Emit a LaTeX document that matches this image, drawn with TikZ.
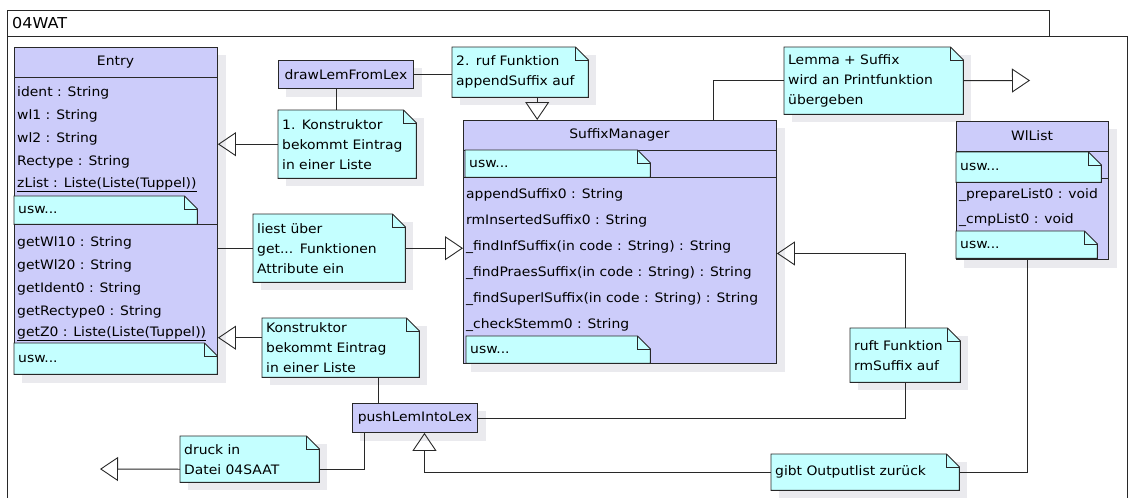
\documentclass[tikz,border=0pt]{standalone}
\usepackage{fontspec}
\setmainfont[FakeStretch=1.07]{DejaVu Sans}
\usetikzlibrary{arrows.meta}
\definecolor{classc}{RGB}{204,204,250}
\definecolor{notec}{RGB}{196,255,255}
\definecolor{shadc}{RGB}{234,234,238}
\definecolor{linec}{RGB}{40,40,40}
\pgfdeclarelayer{shadowlayer}
\pgfdeclarelayer{boxlayer}
\pgfsetlayers{shadowlayer,boxlayer,main}
\tikzset{
 txt/.style={font=\fontsize{13}{20}\selectfont, inner sep=0pt},
 notebox/.style={txt, anchor=north west, align=left, inner xsep=4pt, inner ysep=0pt},
 attr/.style={txt, anchor=west},
 classbox/.style={draw=linec, fill=classc, line width=0.9pt, anchor=north west, inner sep=0pt},
 procbox/.style={txt, draw=linec, fill=classc, line width=0.9pt, anchor=north west},
 conn/.style={draw=linec, line width=0.9pt},
 inh/.style={conn, -{Triangle[open, length=18pt, width=24pt, line width=0.9pt]}},
}
\newcommand\noteshape[1]{%
 \begin{pgfonlayer}{boxlayer}
 \filldraw[fill=notec, draw=linec, line width=0.9pt] (#1.south west) -- (#1.north west) -- ([xshift=-13pt]#1.north east) -- ([yshift=-13pt]#1.north east) -- (#1.south east) -- cycle;
 \draw[linec, line width=0.9pt] ([xshift=-13pt]#1.north east) |- ([yshift=-13pt]#1.north east);
 \end{pgfonlayer}}
\newcommand\boxshadow[1]{%
 \begin{pgfonlayer}{shadowlayer}
 \fill[shadc] ([shift={(8pt,-8pt)}]#1.south west) rectangle ([shift={(8pt,-8pt)}]#1.north east);
 \end{pgfonlayer}}
\begin{document}
\begin{tikzpicture}[x=1pt,y=-1pt]
\useasboundingbox (0,0) rectangle (1128,498);
% frame
\draw[conn] (7,36) -- (7,10) -- (1049,10) -- (1049,36);
\draw[conn] (7,498) -- (7,36) -- (1127,36) -- (1127,498);
\node[txt, anchor=west, font=\fontsize{15}{18}\selectfont] (title) at (12,23) {04WAT};

% ---------- Entry ----------
\begin{pgfonlayer}{boxlayer}
\node[classbox, minimum width=203pt, minimum height=327pt] (entry) at (14,47) {};
\draw[conn] (entry.west |- 0,77) -- (entry.east |- 0,77);
\draw[conn] (entry.west |- 0,224) -- (entry.east |- 0,224);
\end{pgfonlayer}
\boxshadow{entry}
\node[txt] (entryT) at (115.5,62) {Entry};
\node[attr] (ea1) at (17,93) {ident : String};
\node[attr] (ea2) at (17,116) {wl1 : String};
\node[attr] (ea3) at (17,139) {wl2 : String};
\node[attr] (ea4) at (17,162) {Rectype : String};
\node[attr] (ea5) at (17,185) {\underline{zList : Liste(Liste(Tuppel))}};
\node[notebox, text width=175pt, minimum height=28pt] (eu1) at (14,196) {usw...};
\noteshape{eu1}
\node[attr] (em1) at (17,243) {getWl10 : String};
\node[attr] (em2) at (17,266) {getWl20 : String};
\node[attr] (em3) at (17,289) {getIdent0 : String};
\node[attr] (em4) at (17,312) {getRectype0 : String};
\node[attr] (em5) at (17,334) {\underline{getZ0 : Liste(Liste(Tuppel))}};
\node[notebox, text width=195pt, minimum height=31pt] (eu2) at (14,343) {usw...};
\noteshape{eu2}

% ---------- SuffixManager ----------
\begin{pgfonlayer}{boxlayer}
\node[classbox, minimum width=313pt, minimum height=243pt] (sm) at (463,120) {};
\draw[conn] (sm.west |- 0,150) -- (sm.east |- 0,150);
\draw[conn] (sm.west |- 0,177) -- (sm.east |- 0,177);
\end{pgfonlayer}
\boxshadow{sm}
\node[txt] (smT) at (619.5,135) {SuffixManager};
\node[notebox, text width=177pt, minimum height=27pt] (su1) at (465,150) {usw...};
\noteshape{su1}
\node[attr] (sm1) at (466,195) {appendSuffix0 : String};
\node[attr] (sm2) at (466,221) {rmInsertedSuffix0 : String};
\node[attr] (sm3) at (466,247) {\_findInfSuffix(in code : String) : String};
\node[attr] (sm4) at (466,273) {\_findPraesSuffix(in code : String) : String};
\node[attr] (sm5) at (466,299) {\_findSuperlSuffix(in code : String) : String};
\node[attr] (sm6) at (466,325) {\_checkStemm0 : String};
\node[notebox, text width=176pt, minimum height=27pt] (su2) at (466,336) {usw...};
\noteshape{su2}

% ---------- WlList ----------
\begin{pgfonlayer}{boxlayer}
\node[classbox, minimum width=152pt, minimum height=138pt] (wl) at (956,121) {};
\draw[conn] (wl.west |- 0,151) -- (wl.east |- 0,151);
\draw[conn] (wl.west |- 0,178) -- (wl.east |- 0,178);
\end{pgfonlayer}
\boxshadow{wl}
\node[txt] (wlT) at (1032,136) {WlList};
\node[notebox, text width=137pt, minimum height=30pt] (wu1) at (956,152) {usw...};
\noteshape{wu1}
\node[attr] (wm1) at (959,195) {\_prepareList0 : void};
\node[attr] (wm2) at (959,220) {\_cmpList0 : void};
\node[notebox, text width=133pt, minimum height=27pt] (wu2) at (956,231) {usw...};
\noteshape{wu2}

% ---------- operation boxes ----------
\node[procbox, minimum width=135pt, minimum height=28pt] (drawlem) at (278,60) {drawLemFromLex};
\boxshadow{drawlem}
\node[procbox, minimum width=125pt, minimum height=29pt] (pushlem) at (352,403) {pushLemIntoLex};
\boxshadow{pushlem}

% ---------- notes ----------
\node[notebox, text width=128pt, minimum height=50pt] (note2) at (452,47) {2. ruf Funktion\\appendSuffix auf};
\noteshape{note2}\boxshadow{note2}
\node[notebox, text width=130pt, minimum height=68pt] (note1) at (278,110) {1. Konstruktor\\bekommt Eintrag\\in einer Liste};
\noteshape{note1}\boxshadow{note1}
\node[notebox, text width=171pt, minimum height=67pt] (lemma) at (784,47) {Lemma + Suffix\\wird an Printfunktion\\übergeben};
\noteshape{lemma}\boxshadow{lemma}
\node[notebox, text width=144pt, minimum height=68pt] (liest) at (253,214) {liest über\\get... Funktionen\\Attribute ein};
\noteshape{liest}\boxshadow{liest}
\node[notebox, text width=149pt, minimum height=59pt] (konstr) at (262,318) {Konstruktor\\bekommt Eintrag\\in einer Liste};
\noteshape{konstr}\boxshadow{konstr}
\node[notebox, text width=102pt, minimum height=54pt] (ruft) at (850,328) {ruft Funktion\\rmSuffix auf};
\noteshape{ruft}\boxshadow{ruft}
\node[notebox, text width=131pt, minimum height=46pt] (druck) at (180,436) {druck in\\Datei 04SAAT};
\noteshape{druck}\boxshadow{druck}
\node[notebox, text width=180pt, minimum height=36pt] (gibt) at (771,454) {gibt Outputlist zurück};
\noteshape{gibt}\boxshadow{gibt}

\coordinate (lemEnd) at (1030,80.5);
\coordinate (drEnd) at (100,469);

% ---------- connectors ----------
\draw[conn] (drawlem.east) -- (drawlem.east -| note2.west);
\draw[inh] ([xshift=17pt]note2.south) -- ([xshift=17pt]note2.south |- sm.north);
\draw[conn] ([xshift=-9.5pt]drawlem.south) -- ([xshift=-9.5pt]drawlem.south |- note1.north);
\draw[inh] (note1.west) -- (note1.west -| entry.east);
\draw[conn] (liest.west -| entry.east) -- (liest.west);
\draw[inh] (liest.east) -- (liest.east -| sm.west);
\draw[inh] ([yshift=10pt]konstr.west) -- ([yshift=10pt]konstr.west -| entry.east);
\draw[conn] ([xshift=37.5pt]konstr.south) -- ([xshift=37.5pt]konstr.south |- pushlem.north);
\draw[conn] (pushlem.east) -| (ruft.south);
\draw[inh] (ruft.north) |- ([yshift=-11.5pt]sm.east);
\draw[conn] ([xshift=93.5pt]sm.north) |- (lemma.west);
\draw[inh] (lemma.east) -- (lemEnd);
\draw[conn] ([xshift=-50.5pt]pushlem.south) |- ([yshift=-10pt]druck.east);
\draw[inh] ([yshift=-10pt]druck.west) -- (drEnd);
\draw[inh] (gibt.west) -| ([xshift=9.5pt]pushlem.south);
\draw[conn] ([xshift=-5pt]wl.south) |- (gibt.east);
\end{tikzpicture}
\end{document}
